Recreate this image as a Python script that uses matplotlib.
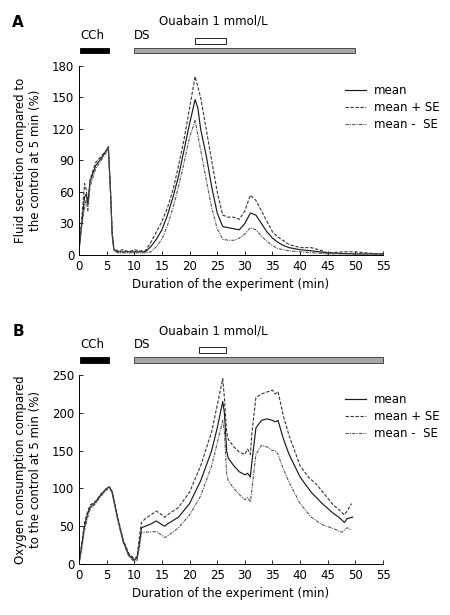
import numpy as np
import matplotlib
matplotlib.use('Agg')
import matplotlib.pyplot as plt
from matplotlib.patches import Rectangle

plt.rcParams['font.family'] = 'DejaVu Sans'
plt.rcParams['font.size'] = 8

# ---- panel A : fluid secretion ----
a_mean_t = [0, 0.5, 1, 1.3, 1.6, 2, 3, 4, 5, 5.3, 5.7, 6, 6.3, 7, 8, 10, 12, 13, 14, 15, 16, 17, 18, 19, 20,
            21, 21.5, 22, 23, 24, 25, 26, 27, 28, 29, 30, 31, 32, 33, 34, 35, 36, 37, 38, 40, 42, 45, 50, 55]
a_mean_y = [5, 30, 55, 58, 50, 70, 85, 92, 100, 103, 60, 20, 5, 3, 3, 3, 3, 8, 15, 24, 38, 55, 75, 100, 125,
            148, 140, 120, 95, 65, 40, 27, 26, 25, 24, 30, 40, 38, 30, 22, 16, 12, 9, 7, 5, 4, 2, 1, 1]

a_plus_t = [0, 0.5, 1, 1.3, 1.6, 2, 3, 4, 5, 5.3, 5.7, 6, 6.3, 7, 8, 9, 10, 11, 12, 13, 14, 15, 16, 17, 18, 19,
            20, 21, 22, 23, 24, 25, 26, 27, 28, 29, 30, 31, 32, 33, 34, 35, 36, 38, 40, 42, 44, 45, 48, 50, 54, 55]
a_plus_y = [5, 35, 68, 62, 48, 72, 88, 94, 100, 103, 62, 22, 6, 4, 5, 3, 5, 4, 4, 12, 22, 32, 45, 62, 85, 110,
            140, 170, 150, 120, 90, 60, 38, 36, 36, 34, 42, 57, 52, 42, 32, 22, 17, 10, 7, 7, 4, 2, 3, 3, 1, 1]

a_minus_t = [0, 0.5, 1, 1.3, 1.6, 2, 3, 4, 5, 5.3, 5.7, 6, 6.3, 7, 10, 12, 13, 14, 15, 16, 17, 18, 19, 20,
             21, 22, 23, 24, 25, 26, 27, 28, 29, 30, 31, 32, 33, 34, 35, 36, 38, 40, 45, 50, 55]
a_minus_y = [5, 28, 45, 52, 42, 65, 82, 90, 98, 102, 58, 18, 4, 2, 2, 2, 3, 8, 15, 28, 45, 65, 88, 112,
             128, 100, 72, 45, 25, 15, 14, 14, 16, 20, 26, 24, 18, 13, 9, 6, 4, 3, 1, 1, 1]

# ---- panel B : oxygen consumption ----
b_mean_t = [0, 0.5, 1, 1.5, 2, 3, 4, 5, 5.5, 6, 7, 8, 9, 10, 10.5, 11, 11.3, 12, 13, 14, 15, 15.5, 16, 18, 20,
            22, 24, 25, 26, 26.3, 26.7, 27, 28, 29, 30, 30.5, 31, 31.2, 32, 33, 34, 35, 35.5, 36, 37, 38, 40,
            42, 44, 46, 47, 48, 48.5, 49.5]
b_mean_y = [0, 25, 50, 65, 75, 82, 92, 100, 102, 95, 60, 30, 12, 5, 8, 30, 48, 50, 53, 57, 52, 50, 53, 62, 80,
            110, 150, 180, 215, 200, 150, 140, 130, 122, 118, 120, 115, 130, 180, 190, 192, 190, 188, 190, 165,
            145, 115, 95, 80, 67, 62, 55, 60, 62]

b_plus_t = [0, 0.5, 1, 1.5, 2, 3, 4, 5, 5.5, 6, 7, 8, 9, 10, 10.5, 11, 11.3, 12, 13, 14, 15, 15.5, 16, 18, 20,
            22, 24, 25, 26, 26.3, 26.7, 27, 28, 29, 30, 30.5, 31, 31.3, 32, 33, 35, 35.5, 36, 37, 38, 40, 41.5,
            43, 46, 47, 48, 48.5, 49.3]
b_plus_y = [0, 28, 55, 68, 78, 83, 93, 100, 102, 96, 62, 32, 14, 7, 10, 40, 55, 60, 65, 70, 65, 62, 65, 75, 95,
            130, 175, 210, 245, 220, 175, 165, 155, 148, 145, 152, 145, 175, 220, 225, 230, 225, 228, 195, 170,
            130, 115, 105, 78, 72, 65, 70, 80]

b_minus_t = [0, 0.5, 1, 1.5, 2, 3, 4, 5, 5.5, 6, 7, 8, 9, 10, 10.5, 11, 11.3, 12, 14, 15, 15.5, 16, 18, 20,
             22, 24, 25, 26, 26.3, 26.7, 27, 28, 29, 30, 30.5, 31, 31.3, 32, 33, 34, 35, 35.5, 36, 37, 38, 40,
             42, 44, 46, 47.5, 48, 48.5, 49.3]
b_minus_y = [0, 20, 45, 60, 72, 80, 90, 98, 101, 93, 58, 28, 10, 3, 5, 25, 42, 42, 43, 38, 35, 37, 48, 65,
             90, 130, 160, 190, 175, 120, 110, 100, 92, 85, 88, 82, 100, 145, 157, 155, 150, 150, 145, 125, 108,
             80, 62, 52, 47, 42, 45, 48, 45]

x_ticks = list(range(0, 60, 5))
labels = ['mean', 'mean + SE', 'mean -  SE']


def panel(ax, letter, mt, my, pt, py, nt, ny, ylim, yticks, ylabel, ds_end, ouab, bar_y):
    ax.plot(mt, my, color='#1a1a1a', lw=0.85, ls='-', label=labels[0])
    ax.plot(pt, py, color='#333333', lw=0.8, ls=(0, (3, 1.5)), label=labels[1])
    ax.plot(nt, ny, color='#555555', lw=0.8, ls=(0, (3, 1, 1, 1)), label=labels[2])
    ax.set_xlim(0, 55)
    ax.set_ylim(*ylim)
    ax.set_xticks(x_ticks)
    ax.set_yticks(yticks)
    ax.tick_params(direction='in', length=3, width=0.6, labelsize=8.5)
    for s in ('top', 'right'):
        ax.spines[s].set_visible(False)
    for s in ('left', 'bottom'):
        ax.spines[s].set_linewidth(0.7)
    ax.set_xlabel('Duration of the experiment (min)', fontsize=8.5, labelpad=4)
    ax.set_ylabel(ylabel, fontsize=8.5, labelpad=7)
    ax.legend(loc='upper left', bbox_to_anchor=(0.86, 0.93), frameon=False, fontsize=8.5,
              handlelength=1.8, handletextpad=0.6, labelspacing=0.35, borderaxespad=0)
    # treatment bars above the axes
    tr = ax.get_xaxis_transform()
    h = 0.028
    ax.add_patch(Rectangle((0.2, bar_y - h / 2), 5.2, h, transform=tr, clip_on=False,
                           facecolor='black', edgecolor='black', lw=0.6))
    ax.add_patch(Rectangle((10, bar_y - h / 2), ds_end - 10, h, transform=tr, clip_on=False,
                           facecolor='#a6a6a6', edgecolor='#333333', lw=0.6))
    ax.add_patch(Rectangle((ouab[0], bar_y + 0.035), ouab[1] - ouab[0], 0.032, transform=tr, clip_on=False,
                           facecolor='white', edgecolor='black', lw=0.6))
    ax.text(0.3, bar_y + 0.08, 'CCh', transform=tr, fontsize=8.5, va='center', ha='left')
    ax.text(10, bar_y + 0.08, 'DS', transform=tr, fontsize=8.5, va='center', ha='left')
    ax.text(14.5, bar_y + 0.155, 'Ouabain 1 mmol/L', transform=tr, fontsize=8.5, va='center', ha='left')
    ax.text(-0.22, bar_y + 0.15, letter, transform=ax.transAxes, fontsize=11, fontweight='bold',
            va='center', ha='left')


fig = plt.figure(figsize=(4.5, 6.15), dpi=100)
axA = fig.add_axes([0.1756, 0.5854, 0.6756, 0.3073])
axB = fig.add_axes([0.1756, 0.0829, 0.6756, 0.3073])

panel(axA, 'A', a_mean_t, a_mean_y, a_plus_t, a_plus_y, a_minus_t, a_minus_y, (0, 180), range(0, 181, 30),
      'Fluid secretion compared to\nthe control at 5 min (%)', 50, (21, 26.6), 1.082)
panel(axB, 'B', b_mean_t, b_mean_y, b_plus_t, b_plus_y, b_minus_t, b_minus_y, (0, 250), range(0, 251, 50),
      'Oxygen consumption compared\nto the control at 5 min (%)', 55, (21.7, 26.6), 1.079)

fig.savefig('out.png', dpi=100)
